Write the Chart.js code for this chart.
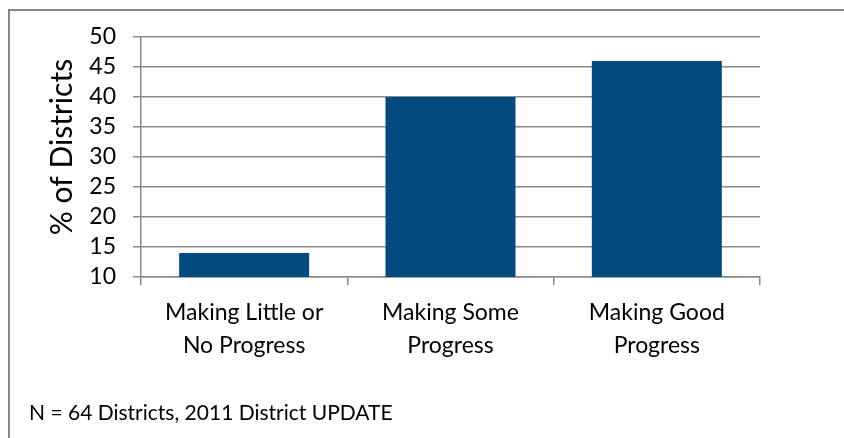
<!DOCTYPE html>
<html>
<head>
<meta charset="utf-8">
<script src="https://cdn.jsdelivr.net/npm/chart.js@4/dist/chart.umd.min.js"></script>
<style>
  html, body { margin: 0; padding: 0; background: #fff; }
  #wrap { position: relative; width: 844px; height: 438px; overflow: hidden; }
  #frame { position: absolute; left: 8px; top: 9px; width: 900px; height: 500px; border-left: 2px solid #868686; border-top: 2px solid #868686; }
  #chart { position: absolute; left: 0; top: 0; }
  #note { position: absolute; left: 29px; top: 399px; font-family: Lato, sans-serif; font-size: 21px; line-height: 25px; color: #000; white-space: nowrap; }
</style>
</head>
<body>
<div id="wrap">
  <div id="frame"></div>
  <canvas id="chart" width="844" height="438"></canvas>
  <div id="note">N = 64 Districts, 2011 District UPDATE</div>
</div>
<script>
const categories = [["Making Little or", "No Progress"], ["Making Some", "Progress"], ["Making Good", "Progress"]];
const percentDistricts = [14, 40, 46];
const yMin = 10;
const yMax = 50;
const yStep = 5;
const yTitle = "% of Districts";

const gridColor = "#8a8a8a";

// Draws the rotated y-axis title slightly above the plot-area centre, as in the reference
const yTitlePlugin = {
  id: "yTitlePlugin",
  afterDraw(chart) {
    const ctx = chart.ctx;
    const area = chart.chartArea;
    ctx.save();
    ctx.translate(62, (area.top + area.bottom) / 2 - 10);
    ctx.rotate(-Math.PI / 2);
    ctx.font = "30px Lato";
    ctx.fillStyle = "#000";
    ctx.textAlign = "center";
    ctx.textBaseline = "middle";
    ctx.fillText(yTitle, 0, 0);
    ctx.restore();
  }
};

new Chart(document.getElementById("chart"), {
  type: "bar",
  data: {
    labels: categories,
    datasets: [{
      data: percentDistricts,
      backgroundColor: "#034a7e",
      borderWidth: 0,
      barPercentage: 0.63,
      categoryPercentage: 1.0
    }]
  },
  plugins: [yTitlePlugin],
  options: {
    responsive: false,
    animation: false,
    devicePixelRatio: 1,
    layout: { padding: { left: 0, top: 37, right: 84, bottom: 0 } },
    plugins: { legend: { display: false }, tooltip: { enabled: false } },
    scales: {
      y: {
        min: yMin,
        max: yMax,
        ticks: { stepSize: yStep, autoSkip: false, color: "#000", padding: 17, font: { family: "Lato", size: 23 } },
        grid: { color: gridColor, lineWidth: 1.5, tickLength: 8, drawTicks: true },
        border: { display: true, color: gridColor, width: 1.5 },
        afterFit: (s) => { s.width = 141; }
      },
      x: {
        ticks: { autoSkip: false, maxRotation: 0, color: "#000", padding: 11, font: { family: "Lato", size: 23, lineHeight: 1.43 } },
        grid: { color: gridColor, lineWidth: 1.5, tickLength: 8, drawOnChartArea: false, drawTicks: true, offset: true },
        border: { display: true, color: gridColor, width: 1.5 },
        afterFit: (s) => { s.height = 161; }
      }
    }
  }
});
</script>
</body>
</html>
